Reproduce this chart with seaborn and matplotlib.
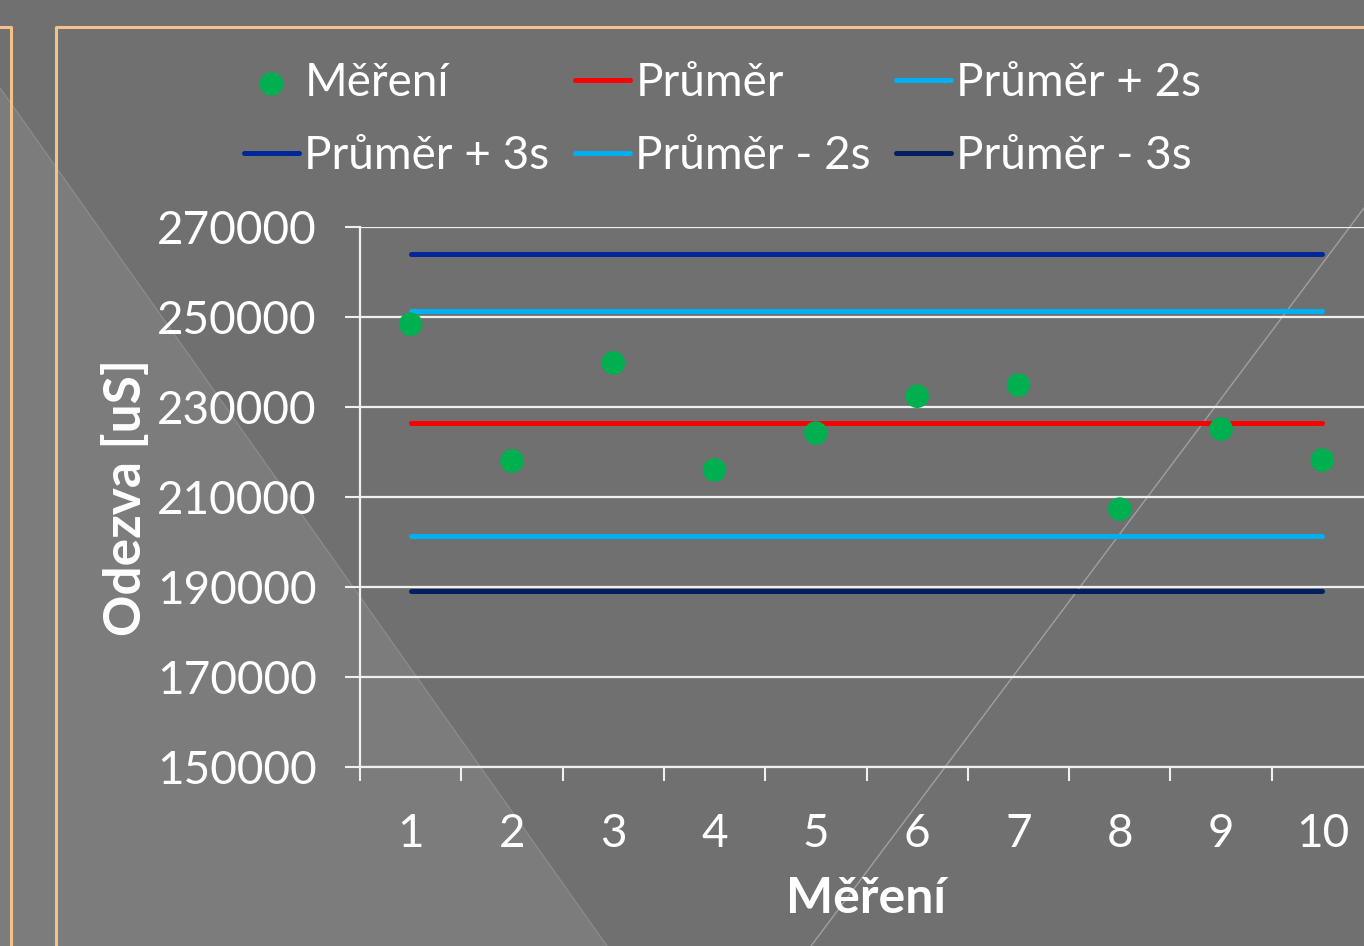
import matplotlib
matplotlib.use("Agg")
import matplotlib.pyplot as plt
from matplotlib.lines import Line2D
from matplotlib.patches import Polygon
import seaborn as sns

# ---- data ----
categories = [1, 2, 3, 4, 5, 6, 7, 8, 9, 10]
mereni = [248400, 218000, 239800, 216000, 224200, 232400, 234900, 207300, 225100, 218200]
level_labels = ["Průměr", "Průměr + 2s", "Průměr + 3s", "Průměr - 2s", "Průměr - 3s"]
level_values = [226450, 251300, 263900, 201400, 189100]
level_colors = ["#FF0000", "#00B0F0", "#00289A", "#00B0F0", "#00205F"]
y_ticks = [150000, 170000, 190000, 210000, 230000, 250000, 270000]

sns.set_theme(style="white")
plt.rcParams["font.family"] = ["Lato", "DejaVu Sans"]

W, H = 1364, 946
fig = plt.figure(figsize=(W / 100, H / 100), dpi=100)
fig.patch.set_facecolor("#707070")

def fx(x):
    return x / W

def fy(y):
    return 1 - y / H

# background decorations (below the axes)
tri = Polygon([(fx(0), fy(88)), (fx(607), fy(946)), (fx(0), fy(946))],
              closed=True, transform=fig.transFigure, facecolor="#7c7c7c",
              edgecolor="none", zorder=-3)
fig.patches.append(tri)
fig.add_artist(Line2D([fx(0), fx(607)], [fy(88), fy(946)], transform=fig.transFigure,
                      color="#8a8a8a", lw=1, zorder=-2))
fig.add_artist(Line2D([fx(811), fx(1364)], [fy(946), fy(208)], transform=fig.transFigure,
                      color="#a0a0a0", lw=1, zorder=-2))
orange = "#F3C28C"
fig.add_artist(Line2D([fx(0), fx(10.5), fx(10.5)], [fy(27), fy(27), fy(946)],
                      transform=fig.transFigure, color=orange, lw=2.2, zorder=-1))
fig.add_artist(Line2D([fx(56), fx(56), fx(1364)], [fy(946), fy(27), fy(27)],
                      transform=fig.transFigure, color=orange, lw=2.2, zorder=-1))

# axes
left, right, top, bottom = 360, 1373, 227, 767
ax = fig.add_axes([fx(left), fy(bottom), fx(right - left), (bottom - top) / H])
ax.set_zorder(1)
ax.patch.set_alpha(0)

for lab, val, col in zip(level_labels, level_values, level_colors):
    sns.lineplot(x=categories, y=[val] * len(categories), ax=ax, color=col,
                 linewidth=3.6, label=lab, solid_capstyle="round", zorder=3)

sns.scatterplot(x=categories, y=mereni, ax=ax, color="#00B050", s=290,
                edgecolor="none", label="Měření", zorder=4)

ax.set_xlim(0.5, 10.5)
ax.set_ylim(150000, 270000)
ax.set_yticks(y_ticks)
ax.set_yticklabels([str(v) for v in y_ticks])
ax.set_xticks(categories)
ax.set_xticklabels([str(c) for c in categories])
ax.set_xticks([c - 0.5 for c in categories] + [10.5], minor=True)

txt = "white"
ax.tick_params(axis="y", which="major", direction="out", length=11, width=1.5,
               color="#f0f0f0", labelsize=33, labelcolor=txt, pad=20, left=True)
ax.tick_params(axis="x", which="major", length=0, labelsize=33, labelcolor=txt, pad=33)
ax.tick_params(axis="x", which="minor", direction="out", length=10, width=1.5,
               color="#f0f0f0", bottom=True)

ax.grid(axis="y", color="#f0f0f0", linewidth=1.6, zorder=1)
ax.grid(axis="x", visible=False)
ax.set_axisbelow(True)
for s in ["top", "right"]:
    ax.spines[s].set_visible(False)
for s in ["left", "bottom"]:
    ax.spines[s].set_color("#f0f0f0")
    ax.spines[s].set_linewidth(1.6)

ax.set_xlabel("Měření", fontsize=36, fontweight="bold", color=txt, labelpad=15)
ax.set_ylabel("Odezva [uS]", fontsize=37, fontweight="bold", color=txt, labelpad=5)

# legend, row-wise order via column-wise filling
handles, labels = ax.get_legend_handles_labels()
hmap = dict(zip(labels, handles))
order = ["Měření", "Průměr + 3s", "Průměr", "Průměr - 2s", "Průměr + 2s", "Průměr - 3s"]
ax.legend([hmap[k] for k in order], order, ncol=3, frameon=False,
          loc="upper left", bbox_to_anchor=(fx(221), fy(39)),
          bbox_transform=fig.transFigure, labelcolor=txt,
          handlelength=1.2, handletextpad=0.12, columnspacing=0.55,
          labelspacing=0.68, borderpad=0, markerscale=1.0,
          prop={"size": 33})

fig.savefig("out.png", dpi=100, facecolor=fig.get_facecolor())
